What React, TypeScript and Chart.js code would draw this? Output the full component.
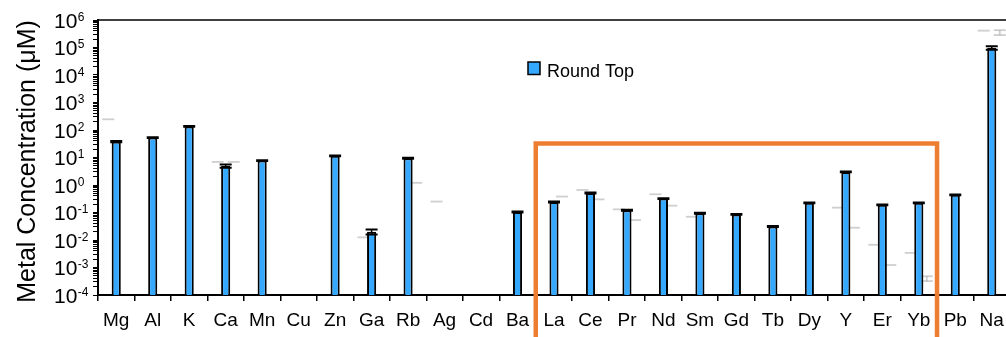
import React, { useEffect, useRef } from 'react';
import { Chart, registerables } from 'chart.js';

Chart.register(...registerables);

// Elements measured, in axis order
const ELEMENTS = ['Mg', 'Al', 'K', 'Ca', 'Mn', 'Cu', 'Zn', 'Ga', 'Rb', 'Ag', 'Cd', 'Ba', 'La', 'Ce', 'Pr', 'Nd', 'Sm', 'Gd', 'Tb', 'Dy', 'Y', 'Er', 'Yb', 'Pb', 'Na'];

// Round Top concentrations (µM) and their ± errors
const ROUND_TOP = [38, 53, 135, 4.9, 7.7, null, 11.5, 0.02, 9.4, null, null, 0.105, 0.24, 0.51, 0.12, 0.32, 0.094, 0.085, 0.031, 0.225, 3.0, 0.19, 0.225, 0.44, 97000];
const ROUND_TOP_ERR = [2, 2, 5, 0.7, 0.3, null, 0.4, 0.004, 0.4, null, null, 0.004, 0.01, 0.02, 0.005, 0.012, 0.004, 0.003, 0.001, 0.008, 0.1, 0.007, 0.008, 0.015, 15000];

// Faint companion series shown only as light grey markers
const FAINT_SERIES_1 = [245, null, null, 6.9, null, null, null, 0.0125, null, 0.25, null, null, null, 0.66, 0.13, 0.46, 0.07, null, null, null, 0.15, 0.0067, 0.0034, null, 410000];
const FAINT_SERIES_2 = [null, null, null, 6.9, null, null, null, null, 1.2, null, null, null, 0.38, 0.3, 0.053, 0.177, null, null, null, null, 0.028, 0.00123, 0.0004, null, 355000];
const FAINT_SERIES_2_ERR = [null, null, null, null, null, null, null, null, null, null, null, null, null, null, null, null, null, null, null, null, null, null, 0.00008, null, 72000];

// Highlighted block of rare-earth elements
const HIGHLIGHT_FROM = 'La';
const HIGHLIGHT_TO = 'Yb';
const HIGHLIGHT_TOP = 32;

// Decade range of the logarithmic axis
const Y_MIN_EXP = -4;
const Y_MAX_EXP = 6;

const FONT = "'Liberation Sans', Arial, Helvetica, sans-serif";
const BAR_BLUE = '#35A8FF';
const ORANGE = '#ED7D31';

const decorations = {
  id: 'decorations',
  beforeDatasetsDraw(chart: any) {
    const { ctx, scales } = chart;
    const x = scales.x;
    const y = scales.y;
    const off = 8;
    const half = 6;
    ctx.save();
    ctx.strokeStyle = 'rgba(160,160,160,0.5)';
    ctx.lineWidth = 1.8;
    const mark = (cx: number, v: number) => {
      const py = y.getPixelForValue(v);
      ctx.beginPath();
      ctx.moveTo(cx - half, py);
      ctx.lineTo(cx + half, py);
      ctx.stroke();
    };
    ELEMENTS.forEach((_, i) => {
      const cx = x.getPixelForValue(i);
      const a = FAINT_SERIES_1[i];
      if (a != null) mark(cx - off, a);
      const b = FAINT_SERIES_2[i];
      if (b != null) {
        const e = FAINT_SERIES_2_ERR[i];
        if (e != null) {
          mark(cx + off, b + e);
          mark(cx + off, b - e);
          ctx.beginPath();
          ctx.moveTo(cx + off, y.getPixelForValue(b + e));
          ctx.lineTo(cx + off, y.getPixelForValue(b - e));
          ctx.stroke();
        } else {
          mark(cx + off, b);
        }
      }
    });
    ctx.restore();
  },
  afterDatasetsDraw(chart: any) {
    const { ctx, scales } = chart;
    const y = scales.y;
    const meta = chart.getDatasetMeta(0);
    ctx.save();
    ctx.strokeStyle = '#000';
    ROUND_TOP.forEach((v, i) => {
      const e = ROUND_TOP_ERR[i];
      if (v == null || e == null) return;
      const bx = meta.data[i].x;
      const hi = y.getPixelForValue(v + e);
      const lo = y.getPixelForValue(v - e);
      ctx.lineWidth = 1.5;
      ctx.beginPath();
      ctx.moveTo(bx, hi);
      ctx.lineTo(bx, lo);
      ctx.stroke();
      ctx.lineWidth = 2;
      ctx.beginPath();
      ctx.moveTo(bx - 6, hi);
      ctx.lineTo(bx + 6, hi);
      ctx.moveTo(bx - 6, lo);
      ctx.lineTo(bx + 6, lo);
      ctx.stroke();
    });
    ctx.restore();
  },
  afterDraw(chart: any) {
    const { ctx, scales, chartArea } = chart;
    const x = scales.x;
    const y = scales.y;
    ctx.save();

    // top frame line
    ctx.strokeStyle = '#000';
    ctx.lineWidth = 1.5;
    ctx.beginPath();
    ctx.moveTo(chartArea.left, chartArea.top);
    ctx.lineTo(chartArea.right, chartArea.top);
    ctx.stroke();

    // y tick labels with superscript exponents
    ctx.fillStyle = '#000';
    ctx.textAlign = 'left';
    ctx.textBaseline = 'alphabetic';
    for (let e = Y_MIN_EXP; e <= Y_MAX_EXP; e++) {
      const py = y.getPixelForValue(Math.pow(10, e));
      ctx.font = `21px ${FONT}`;
      ctx.fillText('10', 54, py + 7.5);
      const w = ctx.measureText('10').width;
      ctx.font = `12px ${FONT}`;
      ctx.fillText(String(e), 54 + w + 0.5, py + 0.5);
    }

    // y axis title
    ctx.save();
    ctx.translate(35, (chartArea.top + chartArea.bottom) / 2 + 4);
    ctx.rotate(-Math.PI / 2);
    ctx.textAlign = 'center';
    ctx.font = `25px ${FONT}`;
    ctx.fillText('Metal Concentration (\u03BCM)', 0, 0);
    ctx.restore();

    // legend
    const lx = 528;
    const ly = 62;
    ctx.fillStyle = BAR_BLUE;
    ctx.fillRect(lx, ly, 12, 12.5);
    ctx.strokeStyle = '#000';
    ctx.lineWidth = 1.5;
    ctx.strokeRect(lx, ly, 12, 12.5);
    ctx.fillStyle = '#000';
    ctx.font = `18px ${FONT}`;
    ctx.fillText('Round Top', 547, 76.5);

    // highlight frame around the rare-earth block
    const i0 = ELEMENTS.indexOf(HIGHLIGHT_FROM);
    const i1 = ELEMENTS.indexOf(HIGHLIGHT_TO);
    const left = (x.getPixelForValue(i0 - 1) + x.getPixelForValue(i0)) / 2;
    const right = (x.getPixelForValue(i1) + x.getPixelForValue(i1 + 1)) / 2;
    const top = y.getPixelForValue(HIGHLIGHT_TOP);
    ctx.strokeStyle = ORANGE;
    ctx.lineWidth = 4.5;
    ctx.lineJoin = 'miter';
    ctx.beginPath();
    ctx.moveTo(left, chart.height + 10);
    ctx.lineTo(left, top);
    ctx.lineTo(right, top);
    ctx.lineTo(right, chart.height + 10);
    ctx.stroke();

    ctx.restore();
  },
};

export default function App() {
  const ref = useRef<HTMLCanvasElement | null>(null);

  useEffect(() => {
    const canvas = ref.current;
    if (!canvas) return;
    const chart = new Chart(canvas, {
      type: 'bar',
      data: {
        labels: ELEMENTS,
        datasets: [
          {
            label: 'Round Top',
            data: ROUND_TOP as any,
            backgroundColor: BAR_BLUE,
            borderColor: '#000',
            borderWidth: 2,
            barPercentage: 0.25,
            categoryPercentage: 1,
          },
        ],
      },
      options: {
        responsive: false,
        animation: false,
        devicePixelRatio: 1,
        layout: { padding: { top: 20, right: 2, left: 0, bottom: 0 } },
        plugins: {
          legend: { display: false },
          tooltip: { enabled: false },
        },
        scales: {
          x: {
            offset: true,
            grid: {
              offset: true,
              drawOnChartArea: false,
              drawTicks: true,
              tickLength: 6,
              color: '#000',
              lineWidth: 1.5,
            },
            border: { display: true, color: '#000', width: 2 },
            ticks: {
              color: '#000',
              font: { family: FONT, size: 19 },
              padding: 8,
              maxRotation: 0,
              autoSkip: false,
            },
            afterFit: (s: any) => {
              s.height = 42;
            },
          },
          y: {
            type: 'logarithmic',
            min: Math.pow(10, Y_MIN_EXP),
            max: Math.pow(10, Y_MAX_EXP),
            grid: {
              drawOnChartArea: false,
              drawTicks: true,
              tickLength: 5,
              color: '#000',
              lineWidth: 1,
            },
            border: { display: true, color: '#000', width: 2 },
            ticks: { display: false },
            afterBuildTicks: (s: any) => {
              const t: any[] = [];
              for (let e = Y_MIN_EXP; e < Y_MAX_EXP; e++) {
                for (let m = 1; m < 10; m++) t.push({ value: m * Math.pow(10, e), major: m === 1 });
              }
              t.push({ value: Math.pow(10, Y_MAX_EXP), major: true });
              s.ticks = t;
            },
            afterFit: (s: any) => {
              s.width = 98;
            },
          },
        },
      },
      plugins: [decorations],
    });
    return () => chart.destroy();
  }, []);

  return (
    <div style={{ position: 'fixed', left: 0, top: 0, width: 1006, height: 337, overflow: 'hidden', background: '#fff' }}>
      <canvas ref={ref} width={1012} height={337} style={{ display: 'block', width: 1012, height: 337 }} />
    </div>
  );
}
